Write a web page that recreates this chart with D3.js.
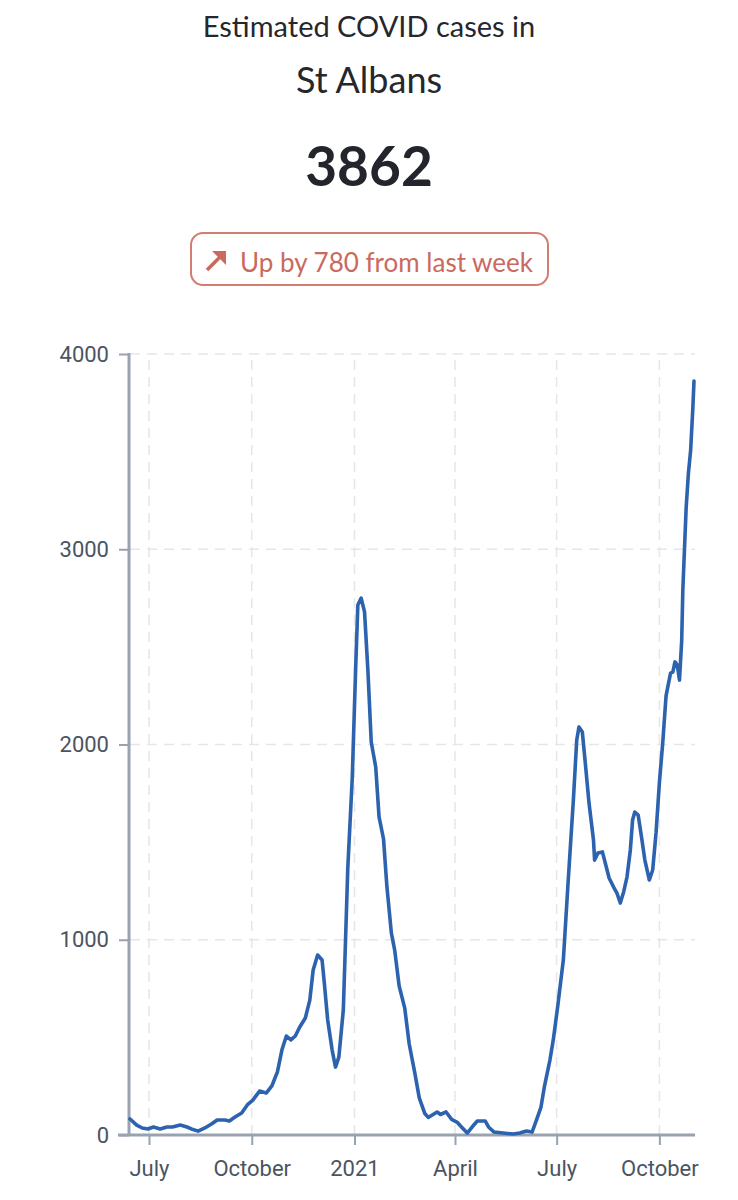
<!DOCTYPE html>
<html>
<head>
<meta charset="utf-8">
<script src="https://cdn.jsdelivr.net/npm/d3@7"></script>
<style>
  body { margin: 0; background: #fff; }
  svg { display: block; }
</style>
</head>
<body>
<div id="chart"></div>
<script>
// estimated cases
var dates = [
  "2020-06-14","2020-06-20","2020-06-25","2020-06-30","2020-07-05","2020-07-11","2020-07-17","2020-07-22",
  "2020-07-29","2020-08-04","2020-08-08","2020-08-14","2020-08-20","2020-08-26","2020-08-31","2020-09-07",
  "2020-09-11","2020-09-16","2020-09-22","2020-09-27","2020-10-02","2020-10-08","2020-10-14","2020-10-19",
  "2020-10-24","2020-10-28","2020-11-01","2020-11-05","2020-11-09","2020-11-13","2020-11-18","2020-11-22",
  "2020-11-25","2020-11-29","2020-12-03","2020-12-05","2020-12-08","2020-12-12","2020-12-15","2020-12-18",
  "2020-12-22","2020-12-24","2020-12-26","2020-12-30","2021-01-02","2021-01-04","2021-01-07","2021-01-10",
  "2021-01-13","2021-01-16","2021-01-20","2021-01-23","2021-01-27","2021-01-30","2021-02-03","2021-02-06",
  "2021-02-10","2021-02-15","2021-02-19","2021-02-24","2021-02-28","2021-03-05","2021-03-08","2021-03-16",
  "2021-03-19","2021-03-24","2021-03-29","2021-04-03","2021-04-07","2021-04-12","2021-04-17","2021-04-21",
  "2021-04-28","2021-05-01","2021-05-06","2021-05-14","2021-05-23","2021-05-29","2021-06-04","2021-06-09",
  "2021-06-13","2021-06-17","2021-06-20","2021-06-25","2021-06-28","2021-07-02","2021-07-07","2021-07-11",
  "2021-07-16","2021-07-19","2021-07-21","2021-07-24","2021-07-27","2021-07-30","2021-08-03","2021-08-04",
  "2021-08-07","2021-08-11","2021-08-14","2021-08-17","2021-08-21","2021-08-24","2021-08-27","2021-08-30",
  "2021-09-02","2021-09-05","2021-09-07","2021-09-09","2021-09-12","2021-09-15","2021-09-18","2021-09-22",
  "2021-09-25","2021-09-28","2021-10-01","2021-10-04","2021-10-07","2021-10-11","2021-10-13","2021-10-15",
  "2021-10-17","2021-10-19","2021-10-21","2021-10-22","2021-10-25","2021-10-27","2021-10-29","2021-10-31",
  "2021-11-01"
];
var cases = [
  82, 51, 36, 31, 41, 31, 41, 41,
  51, 41, 31, 20, 36, 56, 77, 77,
  72, 92, 113, 154, 179, 225, 215, 251,
  323, 435, 507, 487, 507, 553, 599, 691,
  845, 922, 896, 778, 589, 435, 348, 399,
  640, 1000, 1367, 1828, 2381, 2714, 2750, 2679,
  2381, 2013, 1885, 1629, 1516, 1275, 1035, 947,
  763, 650, 466, 318, 190, 110, 90, 118,
  105, 118, 80, 65, 40, 10, 46, 72,
  72, 41, 15, 10, 5, 10, 20, 15,
  77, 143, 246, 384, 487, 660, 896, 1270,
  1716, 2023, 2090, 2064, 1885, 1700, 1511, 1408,
  1444, 1450, 1383, 1316, 1270, 1239, 1188, 1245,
  1321, 1460, 1613, 1654, 1639, 1526, 1408, 1306,
  1357, 1547, 1803, 2008, 2250, 2366, 2371, 2423,
  2407, 2330, 2535, 2791, 3216, 3390, 3508, 3728,
  3862
];
var yTicks = [0, 1000, 2000, 3000, 4000];
var xTicks = ["2020-07-01", "2020-10-01", "2021-01-01", "2021-04-01", "2021-07-01", "2021-10-01"];

var place = "St Albans";
var latest = 3862;
var change = 780;

var W = 738, H = 1200;
var parse = d3.timeParse("%Y-%m-%d");
var data = dates.map(function(d, i) { return { date: parse(d), value: cases[i] }; });

var svg = d3.select("#chart").append("svg")
  .attr("width", W)
  .attr("height", H);

// header
var headFont = "Lato, 'Noto Sans', sans-serif";
svg.append("text")
  .attr("x", 369).attr("y", 37)
  .attr("text-anchor", "middle")
  .attr("font-family", headFont)
  .attr("font-size", 29)
  .attr("fill", "#25272d")
  .text("Estimated COVID cases in");
svg.append("text")
  .attr("x", 369).attr("y", 93)
  .attr("text-anchor", "middle")
  .attr("font-family", headFont)
  .attr("font-size", 36)
  .attr("fill", "#25272d")
  .text(place);
svg.append("text")
  .attr("x", 369).attr("y", 186)
  .attr("text-anchor", "middle")
  .attr("font-family", headFont)
  .attr("font-weight", 700)
  .attr("font-size", 55)
  .attr("fill", "#22252c")
  .text(latest);

// change badge
var badge = svg.append("g");
badge.append("rect")
  .attr("x", 191).attr("y", 233)
  .attr("width", 357).attr("height", 52)
  .attr("rx", 12)
  .attr("fill", "#fff")
  .attr("stroke", "#d27d72")
  .attr("stroke-width", 2);
badge.append("path")
  .attr("d", "M207,270 L222,255")
  .attr("stroke", "#c96a5e")
  .attr("stroke-width", 3.5)
  .attr("fill", "none");
badge.append("path")
  .attr("d", "M212,251 L226,251 L226,265 Z")
  .attr("fill", "#c96a5e");
badge.append("text")
  .attr("x", 240).attr("y", 272)
  .attr("font-family", headFont)
  .attr("font-size", 26)
  .attr("fill", "#c96a5e")
  .text("Up by " + change + " from last week");

// chart
var plotLeft = 130, plotRight = 695, plotTop = 354, plotBottom = 1135;

var x = d3.scaleTime()
  .domain([parse("2020-06-14"), parse("2021-11-01")])
  .range([plotLeft, 694]);
var y = d3.scaleLinear()
  .domain([0, 4000])
  .range([plotBottom, plotTop]);

var gridColor = "#e3e6ea";
svg.append("g")
  .selectAll("line")
  .data(yTicks.slice(1))
  .enter().append("line")
  .attr("x1", plotLeft).attr("x2", plotRight)
  .attr("y1", function(d) { return y(d); })
  .attr("y2", function(d) { return y(d); })
  .attr("stroke", gridColor)
  .attr("stroke-width", 1.5)
  .attr("stroke-dasharray", "10,7");
svg.append("g")
  .selectAll("line")
  .data(xTicks)
  .enter().append("line")
  .attr("x1", function(d) { return x(parse(d)); })
  .attr("x2", function(d) { return x(parse(d)); })
  .attr("y1", plotTop + 6).attr("y2", plotBottom)
  .attr("stroke", gridColor)
  .attr("stroke-width", 1.5)
  .attr("stroke-dasharray", "10,7");

var axisColor = "#97a3b0";
var labelColor = "#4b5461";
var tickFont = "Roboto, sans-serif";

var yAxis = svg.append("g")
  .attr("transform", "translate(" + (plotLeft - 1) + ",0)")
  .call(d3.axisLeft(y).tickValues(yTicks).tickSize(10).tickPadding(10).tickFormat(d3.format("d")));
yAxis.select(".domain")
  .attr("d", "M0," + (plotTop - 1) + "V" + (plotBottom + 1))
  .attr("stroke", axisColor)
  .attr("stroke-width", 3);
yAxis.selectAll(".tick line").attr("stroke", axisColor).attr("stroke-width", 2);
yAxis.selectAll(".tick text")
  .attr("font-family", tickFont)
  .attr("font-size", 22)
  .attr("fill", labelColor);

var xAxis = svg.append("g")
  .attr("transform", "translate(0," + plotBottom + ")")
  .call(d3.axisBottom(x).tickValues(xTicks.map(parse)).tickSize(10).tickPadding(15)
    .tickFormat(function(d) {
      return d.getMonth() === 0 ? d3.timeFormat("%Y")(d) : d3.timeFormat("%B")(d);
    }));
xAxis.select(".domain")
  .attr("d", "M" + (plotLeft - 12) + ",0H" + plotRight)
  .attr("stroke", axisColor)
  .attr("stroke-width", 3);
xAxis.selectAll(".tick line").attr("stroke", axisColor).attr("stroke-width", 2);
xAxis.selectAll(".tick text")
  .attr("font-family", tickFont)
  .attr("font-size", 22)
  .attr("fill", labelColor);

var line = d3.line()
  .x(function(d) { return x(d.date); })
  .y(function(d) { return y(d.value); })
  .curve(d3.curveLinear);

svg.append("path")
  .datum(data)
  .attr("d", line)
  .attr("fill", "none")
  .attr("stroke", "#2c62ae")
  .attr("stroke-width", 3.6)
  .attr("stroke-linejoin", "round")
  .attr("stroke-linecap", "round");
</script>
</body>
</html>
